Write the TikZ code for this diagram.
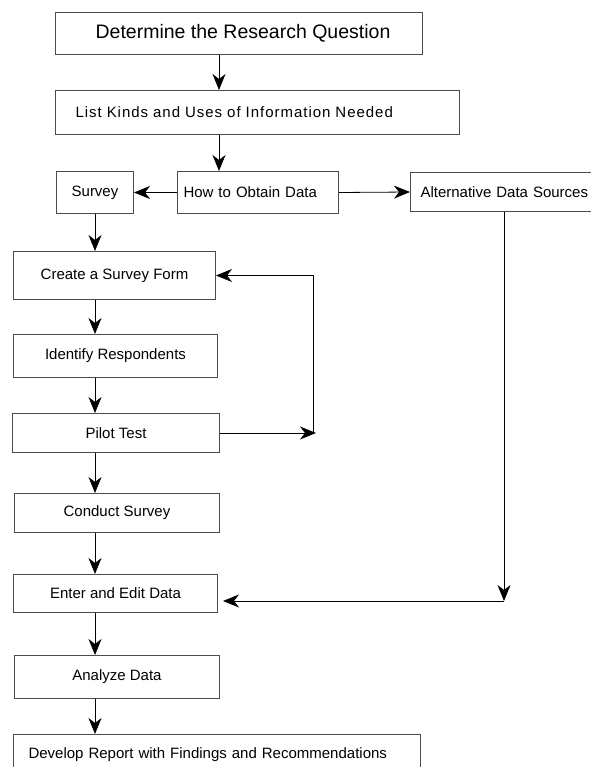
\documentclass[tikz,border=0pt]{standalone}
\usepackage{fontspec}
\setmainfont{Liberation Sans}
\newfontfamily\spaced[LetterSpace=6.5]{Liberation Sans}
\usetikzlibrary{arrows.meta}
\tikzset{	x=1pt, y=-1pt,
	stepbox/.style={
		draw=black!70,
		line width=1pt,
		rectangle,
		anchor=north west,
		inner sep=0pt,
		font=\fontsize{15}{18}\selectfont},
	flow/.style={
		draw,
		-{Stealth[length=16pt,width=13pt,inset=5pt]},
		line width=0.8pt}
}

\begin{document}
\begin{tikzpicture}
	\useasboundingbox (0,0) rectangle (590,767);
	\node[stepbox, minimum width=367pt, minimum height=42pt, font=\fontsize{19.5}{23}\selectfont] (question) at (55,12) {\hspace*{8pt}Determine the Research Question};
	\node[stepbox, minimum height=44pt, inner xsep=20pt, text width=364pt, align=left, font=\spaced\fontsize{15}{18}\selectfont] (info) at (55,90) {List Kinds and Uses of Information Needed};
	\node[stepbox, minimum width=77pt, minimum height=42pt] (survey) at (56,171) {Survey};
	\node[stepbox, minimum height=42pt, inner xsep=6pt, text width=149pt, align=left] (obtain) at (177,171) {How to Obtain Data};
	\node[stepbox, minimum height=39pt, inner xsep=10pt, text width=180pt, align=left] (alt) at (410,172) {Alternative Data Sources};
	\node[stepbox, minimum width=202pt, minimum height=48pt] (form) at (13,251) {Create a Survey Form};
	\node[stepbox, minimum width=204pt, minimum height=43pt] (resp) at (13,334) {Identify Respondents};
	\node[stepbox, minimum width=207pt, minimum height=39pt] (pilot) at (12,413) {Pilot Test};
	\node[stepbox, minimum width=205pt, minimum height=39pt] (conduct) at (14,493) {Conduct Survey};
	\node[stepbox, minimum width=204pt, minimum height=38pt] (enter) at (13,574) {Enter and Edit Data};
	\node[stepbox, minimum width=205pt, minimum height=43pt] (analyze) at (14,655) {Analyze Data};
	\node[stepbox, minimum height=40pt, inner xsep=15pt, text width=377pt, align=left] (report) at (13,734) {Develop Report with Findings and Recommendations};
	% columns for the connectors
	\coordinate (trunk) at (219,0);
	\coordinate (spine) at (95,0);
	\coordinate (back) at (313,0);
	\coordinate (drop) at (504,601);
	\draw[flow] (question.south -| trunk) -- (info.north -| trunk);
	\draw[flow] (info.south -| trunk) -- (obtain.north -| trunk);
	\draw[flow] (obtain.west) -- (survey.east);
	\draw[flow] (obtain.east) -- (alt.west);
	\draw[flow] (survey.south -| spine) -- (form.north -| spine);
	\draw[flow] (form.south -| spine) -- (resp.north -| spine);
	\draw[flow] (resp.south -| spine) -- (pilot.north -| spine);
	\draw[flow] (pilot.south -| spine) -- (conduct.north -| spine);
	\draw[flow] (conduct.south -| spine) -- (enter.north -| spine);
	\draw[flow] (enter.south -| spine) -- (analyze.north -| spine);
	\draw[flow] (analyze.south -| spine) -- (report.north -| spine);
	% pilot test goes back to the form
	\draw[flow] (pilot.east) -- ([xshift=3pt]pilot.east -| back);
	\draw[flow] (pilot.east -| back) |- (form.east);
	% other sources go straight to data entry
	\draw[flow] (alt.south -| drop) -- (drop);
	\draw[flow] (drop) -- ([xshift=5pt]enter.east |- drop);
\end{tikzpicture}
\end{document}
